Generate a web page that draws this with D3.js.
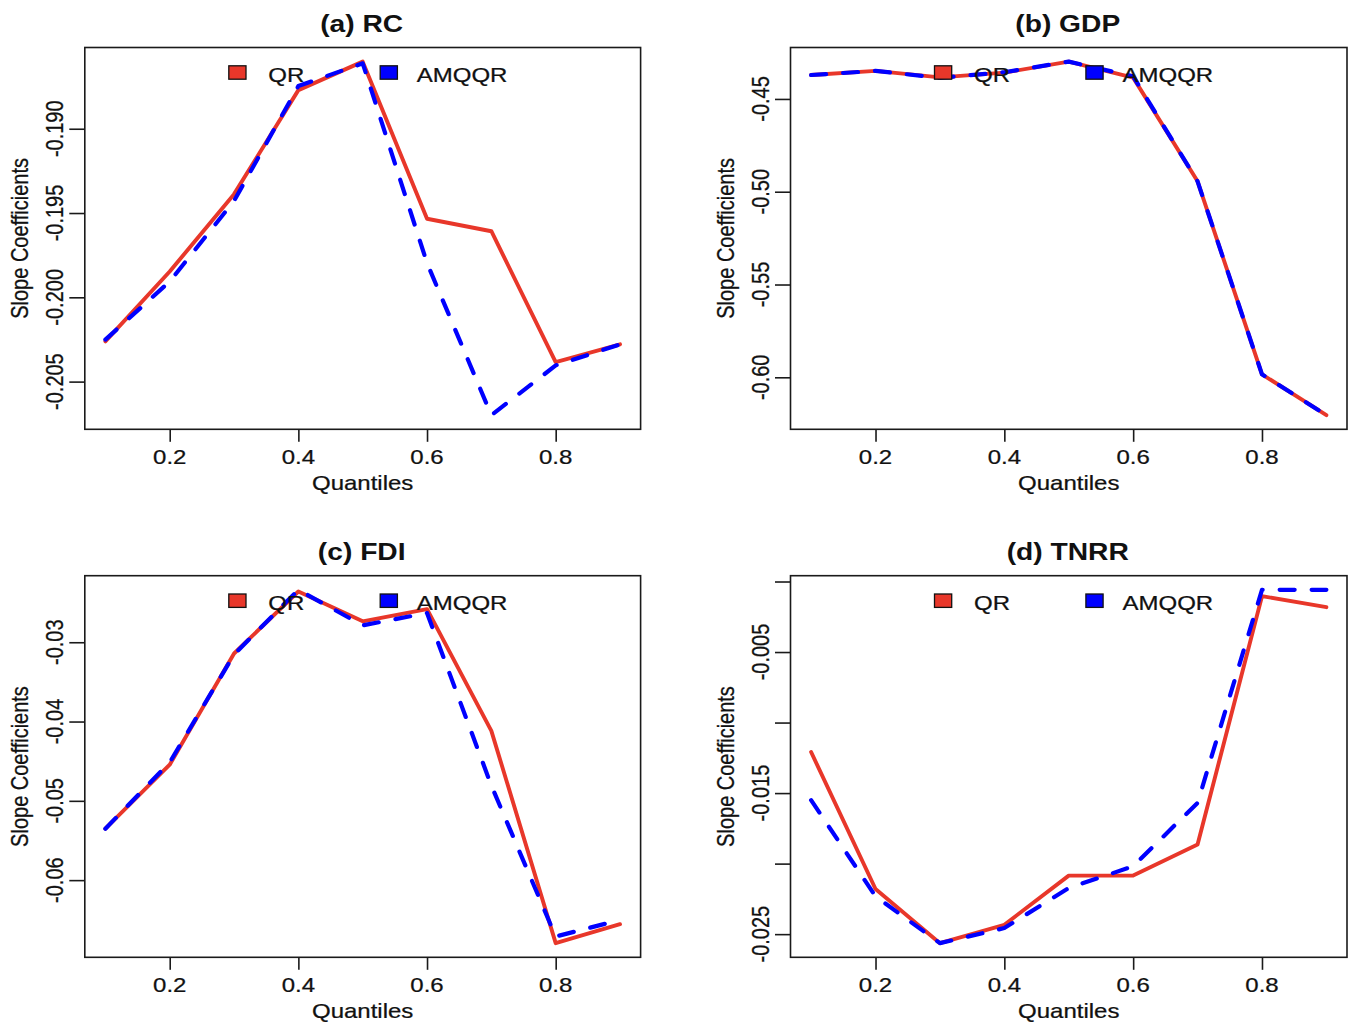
<!DOCTYPE html>
<html>
<head>
<meta charset="utf-8">
<script src="https://cdn.jsdelivr.net/npm/d3@7/dist/d3.min.js"></script>
<style>
  html, body { margin: 0; padding: 0; background: #fff; }
  svg { display: block; }
  text { font-family: "Liberation Sans", Arial, Helvetica, sans-serif; fill: #111; }
</style>
</head>
<body>
<svg id="chart" width="1356" height="1034"></svg>
<script>
// ---------------- DATA ----------------
const quantiles = [0.1, 0.2, 0.3, 0.4, 0.5, 0.6, 0.7, 0.8, 0.9];
const seriesNames = ["QR", "AMQQR"];
const panelTitles = ["(a) RC", "(b) GDP", "(c) FDI", "(d) TNRR"];

const rcQR     = [-0.20261, -0.19847, -0.19388, -0.18771, -0.18602, -0.19534, -0.19608, -0.20384, -0.20279];
const rcAMQQR  = [-0.20251, -0.19906, -0.19428, -0.18747, -0.18612, -0.19797, -0.20699, -0.20404, -0.20279];

const gdpQR    = [-0.4371, -0.4349, -0.4384, -0.4358, -0.4299, -0.4385, -0.4944, -0.5984, -0.6204];
const gdpAMQQR = [-0.4371, -0.4349, -0.4386, -0.4356, -0.4299, -0.4378, -0.4944, -0.5984, -0.6204];

const fdiQR    = [-0.05351, -0.04544, -0.03142, -0.02360, -0.02736, -0.02582, -0.04117, -0.06795, -0.06556];
const fdiAMQQR = [-0.05351, -0.04515, -0.03155, -0.02339, -0.02787, -0.02632, -0.04808, -0.06711, -0.06502];

const tnrrQR    = [-0.01209, -0.02180, -0.02564, -0.02434, -0.02085, -0.02085, -0.01865, -0.00104, -0.00182];
const tnrrAMQQR = [-0.01550, -0.02232, -0.02564, -0.02457, -0.02173, -0.02019, -0.01569, -0.00059, -0.00059];

const xTicks = [0.2, 0.4, 0.6, 0.8];
const xTickLabels = ["0.2", "0.4", "0.6", "0.8"];

const rcTicks = [-0.190, -0.195, -0.200, -0.205];
const rcTickLabels = ["-0.190", "-0.195", "-0.200", "-0.205"];
const gdpTicks = [-0.45, -0.50, -0.55, -0.60];
const gdpTickLabels = ["-0.45", "-0.50", "-0.55", "-0.60"];
const fdiTicks = [-0.03, -0.04, -0.05, -0.06];
const fdiTickLabels = ["-0.03", "-0.04", "-0.05", "-0.06"];
const tnrrTicks = [0.000, -0.005, -0.010, -0.015, -0.020, -0.025];
const tnrrTickLabels = ["", "-0.005", "", "-0.015", "", "-0.025"];

const xLabel = "Quantiles";
const yLabel = "Slope Coefficients";

// ---------------- LAYOUT / STYLE ----------------
const colors = ["#E8372A", "#0000FF"];
const TS = 1.2; // horizontal text stretch seen in the reference

const panels = [
  { title: panelTitles[0], qr: rcQR,   am: rcAMQQR,   ticks: rcTicks,   labels: rcTickLabels,   box: [84.8, 47.5, 640.6, 429.3] },
  { title: panelTitles[1], qr: gdpQR,  am: gdpAMQQR,  ticks: gdpTicks,  labels: gdpTickLabels,  box: [790.5, 47.5, 1347, 429.3] },
  { title: panelTitles[2], qr: fdiQR,  am: fdiAMQQR,  ticks: fdiTicks,  labels: fdiTickLabels,  box: [84.8, 575.7, 640.6, 957.3] },
  { title: panelTitles[3], qr: tnrrQR, am: tnrrAMQQR, ticks: tnrrTicks, labels: tnrrTickLabels, box: [790.5, 575.7, 1347, 957.3] }
];

const svg = d3.select("#chart");
svg.append("rect").attr("width", 1356).attr("height", 1034).attr("fill", "#fff");

function txt(g, x, y, s, o = {}) {
  return g.append("text")
    .attr("transform", `translate(${x},${y}) scale(${TS},1)` + (o.rot ? " rotate(-90)" : ""))
    .attr("text-anchor", o.anchor || "middle")
    .attr("font-size", o.size || 20)
    .attr("font-weight", o.bold ? "bold" : "normal")
    .attr("stroke", o.bold ? "none" : "#111").attr("stroke-width", o.bold ? 0 : 0.25)
    .text(s);
}

panels.forEach(p => {
  const [L, T, R, B] = p.box;
  const g = svg.append("g");

  // R-style 4% extended ranges
  const xe = d3.extent(quantiles), xr = xe[1] - xe[0];
  const x = d3.scaleLinear().domain([xe[0] - 0.04 * xr, xe[1] + 0.04 * xr]).range([L, R]);
  const ye = d3.extent(p.qr.concat(p.am)), yr = ye[1] - ye[0];
  const y = d3.scaleLinear().domain([ye[0] - 0.04 * yr, ye[1] + 0.04 * yr]).range([B, T]);

  // lines
  const line = d3.line().x((d, i) => x(quantiles[i])).y(d => y(d));
  g.append("path").datum(p.qr).attr("d", line)
    .attr("fill", "none").attr("stroke", colors[0]).attr("stroke-width", 3.9)
    .attr("stroke-linejoin", "round").attr("stroke-linecap", "round");
  g.append("path").datum(p.am).attr("d", line)
    .attr("fill", "none").attr("stroke", colors[1]).attr("stroke-width", 4.2)
    .attr("stroke-dasharray", "15,17")
    .attr("stroke-linejoin", "round").attr("stroke-linecap", "round");

  // box
  g.append("rect").attr("x", L).attr("y", T).attr("width", R - L).attr("height", B - T)
    .attr("fill", "none").attr("stroke", "#1a1a1a").attr("stroke-width", 1.6);

  // x axis
  const xAxis = d3.axisBottom(x).tickValues(xTicks)
    .tickFormat((d, i) => xTickLabels[i]).tickSize(12.5).tickSizeOuter(0);
  const xa = g.append("g").attr("transform", `translate(0,${B})`).call(xAxis);
  xa.select(".domain").remove();
  xa.selectAll(".tick line").attr("stroke", "#1a1a1a").attr("stroke-width", 1.6);
  xa.selectAll(".tick text").remove();
  xTicks.forEach((t, i) => txt(g, x(t), B + 35, xTickLabels[i]));

  // y axis
  const yAxis = d3.axisLeft(y).tickValues(p.ticks)
    .tickFormat((d, i) => p.labels[i]).tickSize(15.5).tickSizeOuter(0);
  const ya = g.append("g").attr("transform", `translate(${L},0)`).call(yAxis);
  ya.select(".domain").remove();
  ya.selectAll(".tick line").attr("stroke", "#1a1a1a").attr("stroke-width", 1.6);
  ya.selectAll(".tick text").remove();
  p.ticks.forEach((t, i) => { if (p.labels[i]) txt(g, L - 22, y(t), p.labels[i], { rot: true }); });

  // axis titles
  txt(g, (L + R) / 2, B + 61, xLabel);
  txt(g, L - 57, (T + B) / 2, yLabel, { rot: true });

  // panel title
  txt(g, (L + R) / 2 - 1, T - 15.5, p.title, { bold: true, size: 23.5 });

  // legend
  const legX = [L + 152.6, L + 304];
  const legTX = [L + 183.5, L + 332];
  seriesNames.forEach((nm, i) => {
    g.append("rect").attr("x", legX[i] - 8.6).attr("y", T + 25 - 6.7)
      .attr("width", 17.2).attr("height", 13.4)
      .attr("fill", colors[i]).attr("stroke", "#111").attr("stroke-width", 1.3);
    txt(g, legTX[i], T + 34, nm, { anchor: "start" });
  });
});
</script>
</body>
</html>
